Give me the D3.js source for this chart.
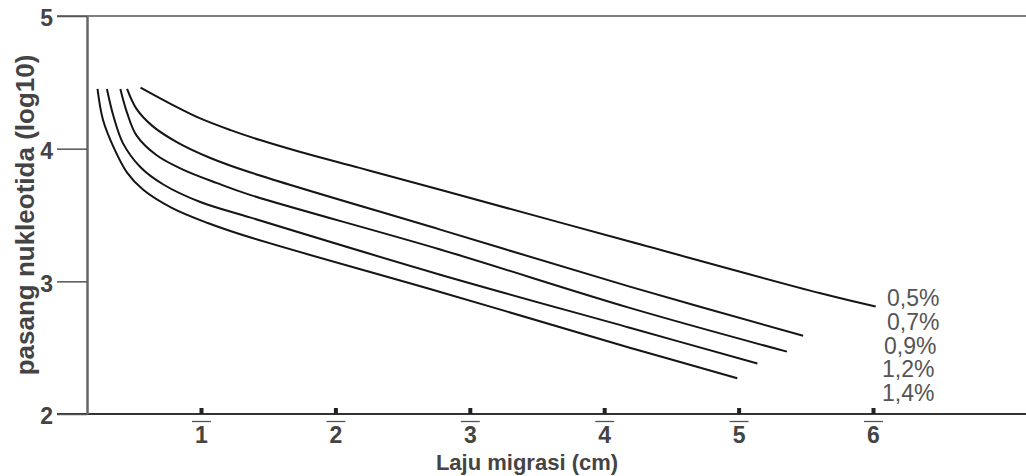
<!DOCTYPE html>
<html>
<head>
<meta charset="utf-8">
<script src="https://cdn.jsdelivr.net/npm/d3@7"></script>
<style>
  body { margin: 0; background: #fff; }
  svg { display: block; }
  .tick text { font-family: "Liberation Sans", Arial, sans-serif; font-weight: bold; fill: #444; }
</style>
</head>
<body>
<div id="chart"></div>
<script>
// agarose gel concentration curves: migration (cm) vs log10 bp
const seriesNames = ["0,5%", "0,7%", "0,9%", "1,2%", "1,4%"];

const gel05 = [[0.55, 4.46], [0.77, 4.34], [0.99, 4.23], [1.22, 4.14], [1.44, 4.065], [1.74, 3.975], [2.18, 3.855], [2.78, 3.69], [4.19, 3.30], [5.61, 2.91], [6.02, 2.81]];
const gel07 = [[0.45, 4.45], [0.52, 4.30], [0.64, 4.17], [0.82, 4.05], [1.07, 3.93], [1.37, 3.82], [2.78, 3.39], [4.19, 2.96], [5.48, 2.59]];
const gel09 = [[0.40, 4.45], [0.45, 4.27], [0.52, 4.10], [0.67, 3.95], [0.87, 3.84], [1.12, 3.74], [1.37, 3.65], [2.78, 3.24], [4.19, 2.80], [5.36, 2.47]];
const gel12 = [[0.30, 4.45], [0.35, 4.24], [0.42, 4.04], [0.55, 3.86], [0.72, 3.73], [0.99, 3.60], [1.37, 3.48], [2.78, 3.05], [4.19, 2.65], [5.14, 2.38]];
const gel14 = [[0.23, 4.45], [0.27, 4.22], [0.35, 4.01], [0.45, 3.82], [0.57, 3.69], [0.79, 3.55], [1.05, 3.44], [1.37, 3.33], [2.78, 2.92], [4.19, 2.50], [4.99, 2.27]];

const series = [gel05, gel07, gel09, gel12, gel14];

const xTicks = [1, 2, 3, 4, 5, 6];
const yTicks = [2, 3, 4, 5];

const W = 1026, H = 476;

const svg = d3.select("#chart")
    .append("svg")
    .attr("width", W)
    .attr("height", H);

const x = d3.scaleLinear().domain([0, 7]).range([66.6, 66.6 + 7 * 134.4]);
const y = d3.scaleLinear().domain([2, 5]).range([414, 16]);

const axisColor = "#555";
const left = 57;

// top and bottom frame lines
svg.append("line")
    .attr("x1", left).attr("x2", W)
    .attr("y1", y(5)).attr("y2", y(5))
    .attr("stroke", axisColor).attr("stroke-width", 1.5);

svg.append("line")
    .attr("x1", left).attr("x2", W)
    .attr("y1", y(2)).attr("y2", y(2))
    .attr("stroke", "#333").attr("stroke-width", 2);

// Y axis
const yAxis = svg.append("g")
    .attr("transform", "translate(87,0)")
    .call(d3.axisLeft(y).tickValues(yTicks).tickSize(30).tickSizeOuter(0).tickPadding(4).tickFormat(d3.format("d")));
yAxis.select(".domain").attr("stroke", "#666").attr("stroke-width", 2.5);
yAxis.selectAll(".tick line").attr("stroke", axisColor).attr("stroke-width", 1.5);
yAxis.selectAll(".tick text").style("font-size", "23px").attr("dy", "0.42em");

// X axis labels
const xAxis = svg.append("g")
    .attr("transform", `translate(0,${y(2)})`)
    .call(d3.axisBottom(x).tickValues(xTicks).tickSize(0).tickPadding(13).tickFormat(d3.format("d")));
xAxis.select(".domain").remove();
xAxis.selectAll(".tick text").style("font-size", "23px");

// small tick marks above the axis
const xMarks = svg.append("g")
    .attr("transform", `translate(0,${y(2)})`)
    .call(d3.axisTop(x).tickValues(xTicks).tickSize(6).tickFormat(""));
xMarks.select(".domain").remove();
xMarks.selectAll(".tick line").attr("stroke", "#222").attr("stroke-width", 4);

// small strokes above the tick numbers
svg.append("g")
    .selectAll("line")
    .data(xTicks)
    .enter()
    .append("line")
    .attr("x1", d => x(d) - 9)
    .attr("x2", d => x(d) + 10)
    .attr("y1", 421.5).attr("y2", 421.5)
    .attr("stroke", "#555").attr("stroke-width", 1.3);

// curves
const line = d3.line()
    .x(d => x(d[0]))
    .y(d => y(d[1]))
    .curve(d3.curveCatmullRom.alpha(0.5));

svg.append("g")
    .selectAll("path")
    .data(series)
    .enter()
    .append("path")
    .attr("d", line)
    .attr("fill", "none")
    .attr("stroke", "#151515")
    .attr("stroke-width", 2);

// series labels
svg.append("g")
    .selectAll("text")
    .data(seriesNames)
    .enter()
    .append("text")
    .attr("x", (d, i) => 887 - (i > 1 ? 3 : 0) - (i > 2 ? 2 : 0))
    .attr("y", (d, i) => 306 + i * 23.8)
    .style("font-family", "'Liberation Sans', Arial, sans-serif")
    .style("font-size", "23px")
    .style("fill", "#555")
    .text(d => d);

// axis titles
svg.append("text")
    .attr("x", 527)
    .attr("y", 470)
    .attr("text-anchor", "middle")
    .style("font-family", "'Liberation Sans', Arial, sans-serif")
    .style("font-weight", "bold")
    .style("font-size", "22px")
    .style("fill", "#444")
    .text("Laju migrasi (cm)");

svg.append("text")
    .attr("transform", "translate(34,215) rotate(-90)")
    .attr("text-anchor", "middle")
    .style("font-family", "'Liberation Sans', Arial, sans-serif")
    .style("font-weight", "bold")
    .style("font-size", "26px")
    .style("fill", "#444")
    .text("pasang nukleotida (log10)");
</script>
</body>
</html>
